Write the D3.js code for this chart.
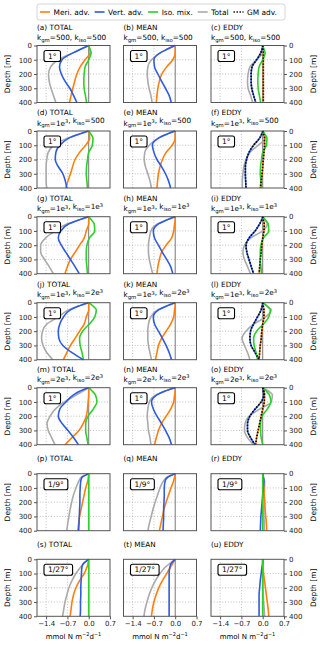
<!DOCTYPE html>
<html>
<head>
<meta charset="utf-8">
<script src="https://cdn.jsdelivr.net/npm/d3@7"></script>
<style>
body { margin: 0; background: #fff; }
svg { font-family: "DejaVu Sans", sans-serif; }
</style>
</head>
<body>
<div id="chart-area"></div>
<script>
// depths [m] at which the profiles are read
var depths = [0, 25, 50, 100, 150, 200, 250, 300, 350, 400];

// panel rows: 1 deg runs with GM/iso params, then 1/9 and 1/27 deg
var kgm = ["500", "1e3", "1e3", "1e3", "2e3"];
var kiso = ["500", "500", "1e3", "2e3", "2e3"];
var resLabels = ["1°", "1°", "1°", "1°", "1°", "1/9°", "1/27°"];
var colNames = ["TOTAL", "MEAN", "EDDY"];
var letters = "abcdefghijklmnopqrstu".split("");

var xTicks = [-1.4, -0.7, 0.0, 0.7];
var yTicks = [0, 100, 200, 300, 400];

var legendNames = ["Meri. adv.", "Vert. adv.", "Iso. mix.", "Total", "GM adv."];

// TOTAL column (one row per run)
var totalMeri = [
    [0, 0.03, 0.05, -0.12, -0.28, -0.39, -0.46, -0.52, -0.58, -0.63],
    [0, 0.02, 0.03, -0.1, -0.3, -0.45, -0.53, -0.6, -0.68, -0.75],
    [0, 0.0, 0.0, -0.08, -0.15, -0.3, -0.45, -0.6, -0.7, -0.78],
    [0, 0.0, 0.0, -0.08, -0.15, -0.3, -0.45, -0.6, -0.72, -0.83],
    [0, 0.0, 0.0, -0.02, -0.04, -0.08, -0.18, -0.32, -0.55, -0.78],
    [0, -0.01, -0.03, -0.1, -0.15, -0.2, -0.25, -0.3, -0.33, -0.36],
    [0, -0.02, -0.05, -0.15, -0.3, -0.42, -0.5, -0.55, -0.58, -0.61]
];
var totalVert = [
    [0, -0.25, -0.5, -0.88, -0.96, -0.9, -0.78, -0.62, -0.5, -0.39],
    [0, -0.35, -0.65, -0.95, -1.08, -1.1, -1.0, -0.85, -0.77, -0.72],
    [0, -0.35, -0.65, -0.92, -1.0, -0.9, -0.75, -0.6, -0.45, -0.31],
    [0, -0.35, -0.6, -0.83, -0.95, -1.0, -0.98, -0.85, -0.55, -0.17],
    [0, -0.3, -0.5, -0.75, -0.95, -1.0, -0.88, -0.68, -0.5, -0.34],
    [0, -0.22, -0.26, -0.28, -0.29, -0.29, -0.3, -0.31, -0.32, -0.33],
    [0, -0.15, -0.22, -0.24, -0.25, -0.26, -0.26, -0.27, -0.27, -0.28]
];
var totalIso = [
    [0, 0.04, 0.08, 0.0, -0.12, -0.15, -0.16, -0.15, -0.11, -0.07],
    [0, 0.08, 0.14, 0.12, 0.0, -0.04, -0.07, -0.08, -0.06, -0.04],
    [0, 0.1, 0.18, 0.2, 0.02, -0.06, -0.08, -0.08, -0.06, -0.04],
    [0, 0.15, 0.25, 0.2, 0.02, -0.2, -0.3, -0.28, -0.22, -0.17],
    [0, 0.12, 0.22, 0.27, 0.15, -0.02, -0.1, -0.1, -0.06, -0.02],
    [0, 0, 0, 0, 0, 0, 0, 0, 0, 0],
    [0, 0, 0, 0, 0, 0, 0, 0, 0, 0]
];
var totalSum = [
    [0, -0.25, -0.5, -1.0, -1.25, -1.32, -1.3, -1.24, -1.16, -1.08],
    [0, -0.35, -0.7, -1.15, -1.33, -1.38, -1.4, -1.4, -1.4, -1.38],
    [0, -0.35, -0.7, -1.1, -1.42, -1.58, -1.58, -1.45, -1.3, -1.16],
    [0, -0.35, -0.65, -1.0, -1.38, -1.52, -1.55, -1.5, -1.38, -1.18],
    [0, -0.2, -0.4, -0.8, -1.1, -1.27, -1.37, -1.33, -1.22, -1.11],
    [0, -0.25, -0.32, -0.42, -0.5, -0.56, -0.61, -0.65, -0.69, -0.72],
    [0, -0.15, -0.25, -0.42, -0.55, -0.65, -0.72, -0.78, -0.82, -0.86]
];

// MEAN column
var meanMeri = [
    [0, 0, 0, -0.08, -0.28, -0.44, -0.52, -0.57, -0.6, -0.62],
    [0, 0, 0, -0.1, -0.3, -0.42, -0.5, -0.55, -0.58, -0.6],
    [0, 0, -0.02, -0.05, -0.12, -0.3, -0.45, -0.52, -0.57, -0.6],
    [0, 0, -0.02, -0.05, -0.15, -0.3, -0.45, -0.55, -0.6, -0.65],
    [0, 0, -0.02, -0.05, -0.15, -0.3, -0.45, -0.55, -0.62, -0.68],
    [0, -0.02, -0.05, -0.14, -0.22, -0.3, -0.37, -0.42, -0.47, -0.52],
    [0, -0.07, -0.14, -0.28, -0.42, -0.54, -0.63, -0.7, -0.75, -0.78]
];
var meanVert = [
    [0, -0.25, -0.48, -0.7, -0.68, -0.57, -0.45, -0.32, -0.2, -0.13],
    [0, -0.3, -0.55, -0.75, -0.7, -0.6, -0.45, -0.32, -0.22, -0.15],
    [0, -0.3, -0.55, -0.72, -0.68, -0.55, -0.42, -0.28, -0.15, -0.08],
    [0, -0.3, -0.55, -0.72, -0.68, -0.55, -0.42, -0.3, -0.2, -0.12],
    [0, -0.35, -0.6, -0.78, -0.72, -0.6, -0.45, -0.32, -0.2, -0.12],
    [0, -0.25, -0.33, -0.36, -0.36, -0.37, -0.38, -0.38, -0.39, -0.4],
    [0, -0.12, -0.17, -0.2, -0.2, -0.2, -0.2, -0.2, -0.2, -0.2]
];
var meanSum = [
    [0, -0.25, -0.48, -0.78, -0.9, -0.92, -0.9, -0.86, -0.8, -0.76],
    [0, -0.3, -0.55, -0.85, -1.0, -1.02, -0.98, -0.9, -0.83, -0.78],
    [0, -0.3, -0.57, -0.8, -0.85, -0.88, -0.88, -0.85, -0.8, -0.74],
    [0, -0.3, -0.57, -0.8, -0.88, -0.9, -0.9, -0.88, -0.83, -0.78],
    [0, -0.35, -0.62, -0.85, -0.9, -0.92, -0.9, -0.88, -0.83, -0.8],
    [0, -0.27, -0.38, -0.5, -0.58, -0.66, -0.73, -0.79, -0.85, -0.9],
    [0, -0.15, -0.3, -0.5, -0.65, -0.77, -0.86, -0.93, -0.99, -1.03]
];

// EDDY column
var eddyMeri = [
    [0, 0.01, 0.02, 0.02, 0.02, 0.02, 0.02, 0.02, 0.02, 0.02],
    [0, 0.03, 0.06, 0.06, 0.04, 0.02, 0.0, -0.02, -0.05, -0.08],
    [0, 0.02, 0.05, 0.04, 0.0, -0.03, -0.05, -0.08, -0.1, -0.12],
    [0, 0.02, 0.04, 0.04, 0.0, -0.03, -0.05, -0.08, -0.1, -0.12],
    [0, 0.04, 0.06, 0.05, 0.0, -0.05, -0.1, -0.15, -0.2, -0.23],
    [0, 0.01, 0.02, 0.04, 0.05, 0.07, 0.08, 0.1, 0.12, 0.13],
    [0, 0.0, 0.01, 0.03, 0.06, 0.09, 0.12, 0.15, 0.18, 0.2]
];
var eddyVert = [
    [0, -0.02, -0.06, -0.2, -0.35, -0.38, -0.38, -0.36, -0.3, -0.23],
    [0, -0.04, -0.1, -0.3, -0.45, -0.53, -0.57, -0.57, -0.56, -0.55],
    [0, -0.04, -0.1, -0.25, -0.45, -0.55, -0.52, -0.45, -0.38, -0.3],
    [0, -0.02, -0.05, -0.17, -0.3, -0.4, -0.42, -0.38, -0.25, -0.12],
    [0, 0.02, 0.04, -0.05, -0.25, -0.42, -0.5, -0.5, -0.4, -0.25],
    [0, 0.02, 0.04, 0.02, 0, -0.02, -0.04, -0.06, -0.07, -0.08],
    [0, 0, -0.02, -0.05, -0.08, -0.1, -0.12, -0.12, -0.12, -0.12]
];
var eddyIso = [
    [0, 0.04, 0.08, 0.0, -0.12, -0.15, -0.16, -0.15, -0.11, -0.07],
    [0, 0.08, 0.14, 0.12, 0.0, -0.04, -0.07, -0.08, -0.06, -0.04],
    [0, 0.1, 0.18, 0.2, 0.02, -0.06, -0.08, -0.08, -0.06, -0.04],
    [0, 0.15, 0.25, 0.2, 0.02, -0.2, -0.3, -0.28, -0.22, -0.17],
    [0, 0.12, 0.22, 0.27, 0.15, -0.02, -0.07, -0.07, -0.05, 0.0],
    [0, 0, 0, 0, 0, 0, 0, 0, 0, 0],
    [0, 0, 0, 0, 0, 0, 0, 0, 0, 0]
];
var eddySum = [
    [0, 0.01, 0.0, -0.2, -0.42, -0.48, -0.5, -0.48, -0.4, -0.33],
    [0, 0.05, 0.08, -0.15, -0.42, -0.55, -0.62, -0.65, -0.67, -0.67],
    [0, 0.08, 0.15, 0.0, -0.4, -0.6, -0.65, -0.6, -0.5, -0.4],
    [0, 0.15, 0.28, 0.1, -0.3, -0.55, -0.68, -0.6, -0.5, -0.42],
    [0, 0.2, 0.32, 0.28, -0.1, -0.45, -0.58, -0.6, -0.5, -0.3],
    [0, 0.03, 0.06, 0.06, 0.05, 0.05, 0.04, 0.04, 0.05, 0.05],
    [0, 0, 0, 0, 0.0, 0.0, 0.02, 0.03, 0.05, 0.06]
];
// rows whose eddy terms are the GM parameterisation (coarse runs)
var gmRows = [true, true, true, true, true, false, false];

var colour = {
    meri: "#ff7f0e",
    vert: "#2e5be0",
    iso: "#2ccf2c",
    total: "#aaaaaa",
    gm: "#000000"
};

var width = 320, height = 645;
var pw = 73, ph = 57;
var colX = [37, 123.5, 211];
var rowY = [45.5, 131, 216.7, 302.7, 387.7, 473.7, 559.3];

var svg = d3.select("#chart-area").append("svg")
    .attr("width", width)
    .attr("height", height);

var x = d3.scaleLinear().domain([-1.7, 0.7]).range([0, pw]);
var y = d3.scaleLinear().domain([0, 400]).range([0, ph]);

var line = d3.line()
    .x(function(d) { return x(d[1]); })
    .y(function(d) { return y(d[0]); })
    .curve(d3.curveMonotoneY);

function profile(vals) {
    return depths.map(function(dep, i) { return [dep, vals[i]]; });
}

// text with sub/superscripts
function kLabel(sel, gm, iso) {
    sel.append("tspan").text("k");
    sel.append("tspan").attr("font-size", "5.3px").attr("dy", 1.6).text("gm");
    sel.append("tspan").attr("dy", -1.6).text("=");
    expo(sel, gm);
    sel.append("tspan").text(", k");
    sel.append("tspan").attr("font-size", "5.3px").attr("dy", 1.6).text("iso");
    sel.append("tspan").attr("dy", -1.6).text("=");
    expo(sel, iso);
}
function expo(sel, s) {
    if (s.indexOf("e") > 0) {
        var p = s.split("e");
        sel.append("tspan").text(p[0] + "e");
        sel.append("tspan").attr("font-size", "5px").attr("dy", -2.2).text(p[1]);
        sel.append("tspan").attr("dy", 2.2).text("");
    } else {
        sel.append("tspan").text(s);
    }
}

function drawPanel(r, c) {
    var g = svg.append("g")
        .attr("transform", "translate(" + colX[c] + "," + rowY[r] + ")");

    // grid
    g.selectAll(".gx").data([-1.4, -0.7]).enter().append("line")
        .attr("x1", function(d) { return x(d); })
        .attr("x2", function(d) { return x(d); })
        .attr("y1", 0).attr("y2", ph)
        .attr("stroke", "#b0b0b0").attr("stroke-width", 0.8)
        .attr("stroke-dasharray", "1,1.8");
    g.selectAll(".gy").data([100, 200, 300]).enter().append("line")
        .attr("y1", function(d) { return y(d); })
        .attr("y2", function(d) { return y(d); })
        .attr("x1", 0).attr("x2", pw)
        .attr("stroke", "#b0b0b0").attr("stroke-width", 0.8)
        .attr("stroke-dasharray", "1,1.8");
    g.append("line")
        .attr("x1", x(0)).attr("x2", x(0))
        .attr("y1", 0).attr("y2", ph)
        .attr("stroke", "#777").attr("stroke-width", 1);

    var series = [];
    if (c === 0) {
        series = [[totalSum[r], colour.total], [totalMeri[r], colour.meri],
                  [totalVert[r], colour.vert], [totalIso[r], colour.iso]];
    } else if (c === 1) {
        series = [[meanSum[r], colour.total], [meanMeri[r], colour.meri],
                  [meanVert[r], colour.vert]];
    } else {
        series = [[eddySum[r], colour.total], [eddyMeri[r], colour.meri],
                  [eddyVert[r], colour.vert], [eddyIso[r], colour.iso]];
    }
    series.forEach(function(s) {
        g.append("path")
            .attr("fill", "none")
            .attr("stroke", s[1])
            .attr("stroke-width", 1.6)
            .attr("d", line(profile(s[0])));
    });
    if (c === 2 && gmRows[r]) {
        [eddyMeri[r], eddyVert[r]].forEach(function(v) {
            g.append("path")
                .attr("fill", "none")
                .attr("stroke", colour.gm)
                .attr("stroke-width", 1.6)
                .attr("stroke-dasharray", "1.4,1.6")
                .attr("d", line(profile(v)));
        });
    }

    // frame
    g.append("rect")
        .attr("width", pw).attr("height", ph)
        .attr("fill", "none")
        .attr("stroke", "#555").attr("stroke-width", 1);

    // resolution box
    var rb = g.append("g").attr("transform", "translate(7,5)");
    var rt = rb.append("text")
        .attr("x", 0).attr("y", 0)
        .attr("font-size", "7.5px")
        .text(resLabels[r]);
    var tw = rt.node().getComputedTextLength();
    rt.attr("x", 4).attr("y", 8.2);
    rb.insert("rect", "text")
        .attr("width", tw + 8).attr("height", 11)
        .attr("rx", 2)
        .attr("fill", "#fff").attr("stroke", "#000").attr("stroke-width", 1.1);

    // titles
    var tl = letters[r * 3 + c];
    if (r < 5) {
        g.append("text").attr("x", 0).attr("y", -16)
            .attr("font-size", "7.3px")
            .text("(" + tl + ") " + colNames[c]);
        var kt = g.append("text").attr("x", 0).attr("y", -5.5)
            .attr("font-size", "7.3px");
        kLabel(kt, kgm[r], kiso[r]);
    } else {
        g.append("text").attr("x", 0).attr("y", -12.5)
            .attr("font-size", "7.3px")
            .text("(" + tl + ") " + colNames[c]);
    }

    // axes
    if (c === 0) {
        var ya = g.append("g").call(d3.axisLeft(y).tickValues(yTicks).tickSize(3).tickPadding(2));
        styleAxis(ya);
        g.append("text")
            .attr("transform", "translate(-27," + (ph / 2) + ") rotate(-90)")
            .attr("text-anchor", "middle")
            .attr("font-size", "7.5px")
            .text("Depth [m]");
    }
    if (c === 2) {
        var yb = g.append("g").attr("transform", "translate(" + pw + ",0)")
            .call(d3.axisRight(y).tickValues(yTicks).tickSize(3).tickPadding(2));
        styleAxis(yb);
        g.append("text")
            .attr("transform", "translate(" + (pw + 32) + "," + (ph / 2) + ") rotate(-90)")
            .attr("text-anchor", "middle")
            .attr("font-size", "7.5px")
            .text("Depth [m]");
    }
    if (r === 6) {
        var xa = g.append("g").attr("transform", "translate(0," + ph + ")")
            .call(d3.axisBottom(x).tickValues(xTicks).tickSize(3).tickPadding(2)
                .tickFormat(d3.format(".1f")));
        styleAxis(xa);
        var xl = g.append("text")
            .attr("x", pw / 2).attr("y", ph + 22.5)
            .attr("text-anchor", "middle")
            .attr("font-size", "7px");
        xl.append("tspan").text("mmol N m");
        xl.append("tspan").attr("font-size", "5px").attr("dy", -3).text("\u22122");
        xl.append("tspan").attr("dy", 3).text("d");
        xl.append("tspan").attr("font-size", "5px").attr("dy", -3).text("\u22121");
    }
}

function styleAxis(a) {
    a.select(".domain").remove();
    a.selectAll(".tick line").attr("stroke", "#555");
    a.selectAll(".tick text")
        .attr("font-size", "7px")
        .attr("font-family", "DejaVu Sans, sans-serif")
        .attr("fill", "#222");
}

for (var r = 0; r < 7; r++) {
    for (var c = 0; c < 3; c++) {
        drawPanel(r, c);
    }
}

// legend
var legend = svg.append("g").attr("class", "legend");
legend.append("rect")
    .attr("x", 37).attr("y", 4)
    .attr("width", 248).attr("height", 16)
    .attr("rx", 2)
    .attr("fill", "#fff").attr("stroke", "#ccc").attr("stroke-width", 0.8);
var legColours = [colour.meri, colour.vert, colour.iso, colour.total, colour.gm];
var lx = 40;
legendNames.forEach(function(name, i) {
    var row = legend.append("g");
    var ln = row.append("line")
        .attr("x1", lx).attr("x2", lx + 10)
        .attr("y1", 12).attr("y2", 12)
        .attr("stroke", legColours[i]).attr("stroke-width", 1.6);
    if (i === 4) ln.attr("stroke-dasharray", "1.4,1.6");
    var t = row.append("text")
        .attr("x", lx + 13.5).attr("y", 14.6)
        .attr("font-size", "7.4px")
        .text(name);
    lx += 13.5 + t.node().getComputedTextLength() + 5;
});
</script>
</body>
</html>
